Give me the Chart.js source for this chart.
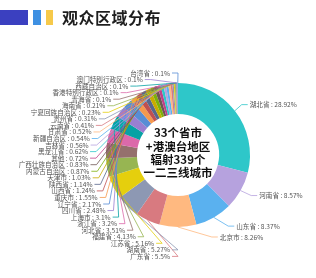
<!DOCTYPE html>
<html>
<head>
<meta charset="utf-8">
<script src="https://cdn.jsdelivr.net/npm/chart.js@4"></script>
<style>
  html, body { margin: 0; padding: 0; background: #ffffff; }
  #wrap { position: relative; width: 316px; height: 278px; overflow: hidden; }
  #c { position: absolute; left: 0; top: 0; }
  #title { position: absolute; left: 0; top: 7px; height: 22px; }
  .blk { position: absolute; top: 3px; height: 15px; }
  #title h1 { position: absolute; left: 62px; top: 0; margin: 0; font: bold 16px "Noto Sans CJK SC", sans-serif; line-height: 21px; color: #1e1e1e; white-space: nowrap; letter-spacing: 0.5px; }
</style>
</head>
<body>
<div id="wrap">
  <canvas id="c" width="316" height="278"></canvas>
  <div id="title">
    <div class="blk" style="left:0;width:28px;background:#3b40c0;"></div>
    <div class="blk" style="left:33px;width:8px;background:#3e90e2;"></div>
    <div class="blk" style="left:46px;width:7px;background:#f6c94a;"></div>
    <h1>观众区域分布</h1>
  </div>
</div>
<script>
// ---- data ----
const regions = ['湖北省','河南省','山东省','北京市','广东省','湖南省','江苏省','福建省','河北省','浙江省',
  '上海市','四川省','辽宁省','重庆市','山西省','陕西省','天津市','内蒙古自治区','广西壮族自治区','其他',
  '黑龙江省','吉林省','新疆自治区','甘肃省','云南省','贵州省','宁夏回族自治区','海南省','青海省',
  '香港特别行政区','西藏自治区','澳门特别行政区','台湾省'];
const shares = [28.92, 8.57, 8.37, 8.26, 5.50, 5.27, 5.16, 4.13, 3.51, 3.2,
  3.1, 2.48, 2.17, 1.55, 1.24, 1.14, 1.03, 0.87, 0.83, 0.72,
  0.62, 0.56, 0.54, 0.52, 0.41, 0.31, 0.23, 0.21, 0.1,
  0.1, 0.1, 0.1, 0.1];
const centerLines = ['33个省市', '+港澳台地区', '辐射339个', '一二三线城市'];

// palette (macarons)
const palette = ['#2ec7c9','#b6a2de','#5ab1ef','#ffb980','#d87a80','#8d98b3','#e5cf0d','#97b552','#95706d','#dc69aa',
  '#07a2a4','#9a7fd1','#588dd5','#f5994e','#c05050','#59678c','#c9ab00','#7eb00a','#6f5553','#c14089'];
const colors = regions.map((_, i) => palette[i % palette.length]);

const outerLabels = {
  id: 'outerLabels',
  afterDatasetsDraw(chart, args, o) {
    const meta = chart.getDatasetMeta(0);
    const ctx = chart.ctx;
    const items = meta.data.map((arc, i) => {
      const p = arc.getProps(['x','y','startAngle','endAngle','outerRadius'], true);
      const mid = (p.startAngle + p.endAngle) / 2;
      const cos = Math.cos(mid), sin = Math.sin(mid);
      const rA = p.outerRadius + o.len;
      const right = cos >= 0 || (sin > 0 && cos > -0.005);
      return { i, cx: p.x, cy: p.y, rA, dir: right ? 1 : -1,
        ex: p.x + cos * p.outerRadius, ey: p.y + sin * p.outerRadius,
        y: p.y + sin * rA };
    });
    [1, -1].forEach(dir => {
      const side = items.filter(it => it.dir === dir).sort((a, b) => a.y - b.y);
      let prev = -Infinity;
      side.forEach(it => { it.y = Math.max(it.y, prev + o.lineH, o.top); prev = it.y; });
      let next = Infinity;
      for (let k = side.length - 1; k >= 0; k--) {
        const it = side[k];
        it.y = Math.min(it.y, next - o.lineH, o.bottom);
        next = it.y;
      }
    });
    ctx.save();
    ctx.font = o.font;
    ctx.textBaseline = 'middle';
    items.forEach(it => {
      const dy = it.y - it.cy;
      const rB = dy < 0 ? o.rBTop : o.rBBottom;
      const dx = it.rA * Math.sqrt(Math.max(0, 1 - dy * dy / (rB * rB)));
      const bendX = it.cx + it.dir * dx;
      const endX = bendX + it.dir * o.len2;
      ctx.strokeStyle = colors[it.i];
      ctx.lineWidth = 0.8;
      ctx.beginPath();
      ctx.moveTo(it.ex, it.ey);
      ctx.lineTo(bendX, it.y);
      ctx.lineTo(endX, it.y);
      ctx.stroke();
      ctx.fillStyle = '#555';
      ctx.textAlign = it.dir > 0 ? 'left' : 'right';
      ctx.fillText(regions[it.i] + ' : ' + shares[it.i] + '%', endX + it.dir * o.gap, it.y);
    });
    ctx.restore();
  }
};

const centerText = {
  id: 'centerText',
  afterDatasetsDraw(chart) {
    const arc = chart.getDatasetMeta(0).data[0];
    const ctx = chart.ctx;
    ctx.save();
    ctx.font = 'bold 11.5px "Noto Sans CJK SC", sans-serif';
    ctx.fillStyle = '#111';
    ctx.textAlign = 'center';
    ctx.textBaseline = 'middle';
    const lh = 13.3;
    centerLines.forEach((t, k) => {
      ctx.fillText(t, arc.x, arc.y - 2 + (k - (centerLines.length - 1) / 2) * lh);
    });
    ctx.restore();
  }
};

new Chart(document.getElementById('c'), {
  type: 'doughnut',
  data: {
    labels: regions,
    datasets: [{ data: shares, backgroundColor: colors, borderWidth: 0 }]
  },
  options: {
    responsive: false,
    animation: false,
    devicePixelRatio: 1,
    cutout: '57%',
    layout: { padding: { left: 106, right: 66, top: 83, bottom: 51 } },
    events: [],
    plugins: {
      legend: { display: false },
      tooltip: { enabled: false },
      title: { display: false },
      outerLabels: { len: 10, len2: 6, gap: 2, lineH: 6.55, top: 57, bottom: 272,
        rBTop: 80, rBBottom: 90, font: '6.6px "Noto Sans CJK SC", sans-serif' }
    }
  },
  plugins: [outerLabels, centerText]
});
</script>
</body>
</html>
